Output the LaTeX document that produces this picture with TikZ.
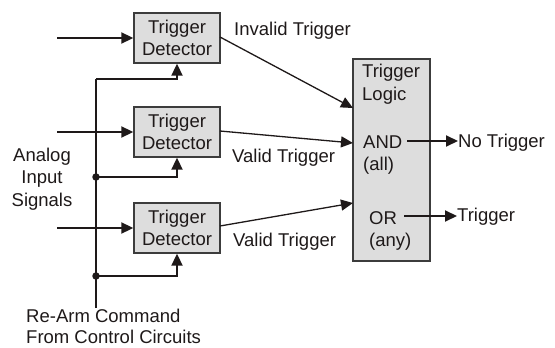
\documentclass[tikz,border=0pt]{standalone}
\usepackage{fontspec}
\setmainfont{Liberation Sans}
\usetikzlibrary{arrows.meta}
\definecolor{ink}{RGB}{30,25,25}
\definecolor{edge}{RGB}{60,60,60}
\definecolor{boxfill}{RGB}{221,221,221}
\begin{document}
\begin{tikzpicture}[x=1pt,y=-1pt,
  txt/.style={font=\fontsize{18.5}{22.5}\selectfont, text=ink, inner sep=0pt},
  det/.style={draw=edge, fill=boxfill, line width=1.4pt, minimum width=86pt, minimum height=50pt, inner sep=0pt, align=center, txt},
  logicbox/.style={draw=edge, fill=boxfill, line width=1.4pt, minimum width=77pt, minimum height=202pt, inner sep=0pt},
  wire/.style={draw=ink, line width=2pt},
  thinwire/.style={draw=ink, line width=1.3pt},
  tip/.style={-{Triangle[length=12pt,width=11pt]}},
  dot/.style={circle, fill=ink, inner sep=0pt, minimum size=7.5pt}
]
\useasboundingbox (0,0) rectangle (555,348);
% detectors
\node[det] (d1) at (177,38) {Trigger\\Detector};
\node[det] (d2) at (177,132) {Trigger\\Detector};
\node[det] (d3) at (177,228) {Trigger\\Detector};
% logic
\node[logicbox] (logic) at (391.5,160) {};
\node[txt, anchor=base west, align=left] (lt) at (362,100) {Trigger\\Logic};
\node[txt, anchor=base west, align=left] (and) at (363,148) {AND};
\node[txt, anchor=base west, align=left] (all) at (363,170) {(all)};
\node[txt, anchor=base west, align=left] (or) at (369,224) {OR};
\node[txt, anchor=base west, align=left] (any) at (369,246) {(any)};
% outputs
\node[txt, anchor=base west] (notrig) at (458,147) {No Trigger};
\node[txt, anchor=base west] (trig) at (457,221) {Trigger};
\coordinate (ao) at (407,141);
\coordinate (oo) at (404,216);
\draw[wire, tip] (ao) -- (notrig.west |- ao);
\draw[wire, tip] (oo) -- (trig.west |- oo);
% inputs
\coordinate (i1) at (57,38);
\coordinate (i2) at (57,132);
\coordinate (i3) at (57,228);
\draw[wire, tip] (i1) -- (d1.west);
\draw[wire, tip] (i2) -- (d2.west);
\draw[wire, tip] (i3) -- (d3.west);
% detector to logic
\coordinate (l1) at (353,108);
\coordinate (l2) at (353,143);
\coordinate (l3) at (353,203);
\draw[thinwire, tip] (220,37) -- (l1);
\draw[thinwire, tip] (220,131) -- (l2);
\draw[thinwire, tip] (220,226) -- (l3);
% labels
\node[txt, anchor=base west] (inv) at (234,35) {Invalid Trigger};
\node[txt, anchor=base west] (v2) at (232,162) {Valid Trigger};
\node[txt, anchor=base west] (v3) at (233,246) {Valid Trigger};
\node[txt, anchor=base, align=center] (analog) at (42,206) {Analog\\Input\\Signals};
\node[txt, anchor=base west, align=left, font=\fontsize{18.5}{21}\selectfont] (rearm) at (26,343.5) {Re-Arm Command\\From Control Circuits};
% re-arm bus
\coordinate (busbot) at (96,308);
\coordinate (bustop) at (96,79);
\node[dot] (j2) at (96,177) {};
\node[dot] (j3) at (96,276) {};
\draw[wire] (busbot) -- (bustop);
\draw[wire, tip] (bustop) -| (d1.south);
\draw[wire, tip] (j2.center) -| (d2.south);
\draw[wire, tip] (j3.center) -| (d3.south);
\end{tikzpicture}
\end{document}
